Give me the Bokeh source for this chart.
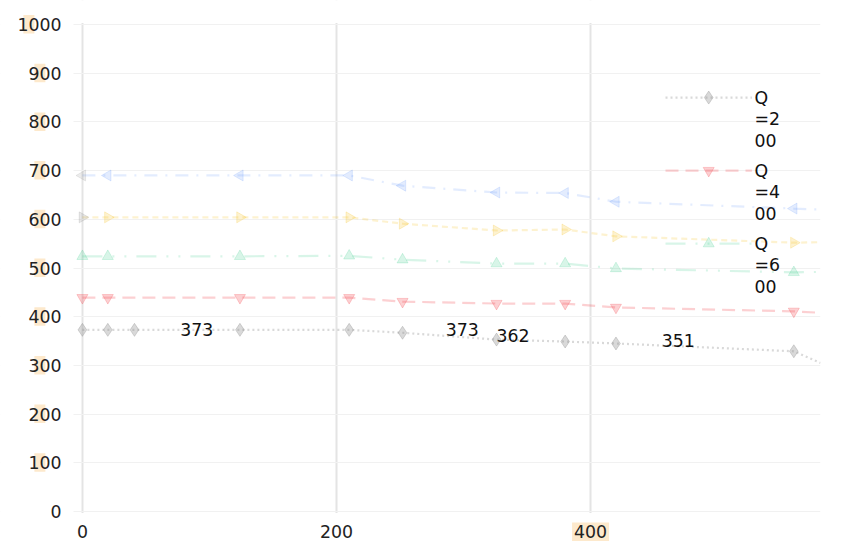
import math
from bokeh.plotting import figure
from bokeh.models import Range1d, FixedTicker, Label, ColumnDataSource, BoxAnnotation
from bokeh.embed import file_html
from bokeh.resources import INLINE
from bokeh.core.properties import value

# ---- data ----
x_main = [0, 20, 124, 210, 252, 326, 380, 420, 560, 581]
x_gray = [0, 20, 41, 124, 210, 252, 326, 380, 420, 560, 581]
q200 = [373, 373, 373, 373, 373, 367, 353, 349, 345, 329, 305]
q400 = [439, 439, 439, 439, 431, 427, 427, 419, 411, 408]
q600 = [524, 524, 524, 525, 517, 509, 509, 499, 491, 492]
q800 = [604, 604, 604, 604, 591, 577, 579, 565, 552, 553]
q1000 = [690, 690, 690, 690, 669, 655, 654, 636, 622, 620]

label_x = [90, 299, 339, 469]
label_y = [373, 373, 362, 351]
label_txt = ["373", "373", "362", "351"]

x_ticks = [0, 200, 400]
y_ticks = [0, 100, 200, 300, 400, 500, 600, 700, 800, 900, 1000]
legend_labels = ["Q\n=2\n00", "Q\n=4\n00", "Q\n=6\n00"]
legend_y = [850, 700, 550]

FONT = "DejaVu Sans"
FS = "13pt"

# ---- geometry: plot area x=-7..581, y=0..1000 (747 x 487 px);
# the frame is extended so the tick-label area lies inside it
X_LO, X_HI, Y_LO, Y_HI = -7, 581, 0, 1000
SX = 747 / (X_HI - X_LO)
SY = 487 / (Y_HI - Y_LO)
LEFT_PX, BOTTOM_PX, TOP_PX = 73, 30, 24
x_start = X_LO - LEFT_PX / SX
y_start = Y_LO - BOTTOM_PX / SY
y_end = Y_HI + TOP_PX / SY

p = figure(frame_width=747 + LEFT_PX, frame_height=487 + BOTTOM_PX + TOP_PX,
           output_backend="svg", toolbar_location=None,
           x_range=Range1d(x_start, X_HI), y_range=Range1d(y_start, y_end),
           min_border_left=0, min_border_top=0, min_border_right=16, min_border_bottom=0)
p.outline_line_color = None
p.background_fill_color = "white"
p.border_fill_color = "white"

# axes, pinned to the plot-area edges
for ax in (p.xaxis[0], p.yaxis[0]):
    ax.axis_line_color = None
    ax.major_tick_line_color = None
    ax.minor_tick_line_color = None
    ax.major_label_text_font = FONT
    ax.major_label_text_font_size = FS
    ax.major_label_text_color = "#222222"
p.xaxis.ticker = FixedTicker(ticks=x_ticks)
p.yaxis.ticker = FixedTicker(ticks=y_ticks)
p.xaxis.fixed_location = Y_LO
p.yaxis.fixed_location = X_LO
p.xaxis.major_label_standoff = 7
p.yaxis.major_label_standoff = 6

p.xgrid.ticker = FixedTicker(ticks=x_ticks)
p.ygrid.ticker = FixedTicker(ticks=y_ticks)
p.xgrid.grid_line_color = "#e4e4e4"
p.xgrid.grid_line_width = 2
p.ygrid.grid_line_color = "#f1f1f1"
p.ygrid.grid_line_width = 1

# white strips so the grid stays inside the plot area
WHITE = dict(fill_color="white", fill_alpha=1, line_color=None, level="underlay")
p.add_layout(BoxAnnotation(left=x_start, right=X_LO, bottom=y_start, top=y_end, **WHITE))
p.add_layout(BoxAnnotation(left=X_LO, right=X_HI, bottom=y_start, top=Y_LO - 1.5 / SY, **WHITE))
p.add_layout(BoxAnnotation(left=X_LO, right=X_HI, bottom=Y_HI + 1.5 / SY, top=y_end, **WHITE))

# highlight boxes behind tick labels (first digit of y labels, whole "400")
HL = "#fde9cc"
for t in y_ticks[1:]:
    lpx = 23 if t >= 1000 else 34
    l = (lpx - 82) / SX
    r = (lpx + 11 - 82) / SX
    p.add_layout(BoxAnnotation(left=l, right=r, bottom=t - 9 / SY, top=t + 9.5 / SY,
                               fill_color=HL, fill_alpha=1, line_color=None, level="underlay"))
p.add_layout(BoxAnnotation(left=400 - 18.5 / SX, right=400 + 18.5 / SX,
                           bottom=-30 / SY, top=-11 / SY,
                           fill_color=HL, fill_alpha=1, line_color=None, level="underlay"))

series = [
    ("gray", x_gray, q200, "#8c8c8c", "2 3", "diamond", 0.0, 0.33, 13),
    ("red", x_main, q400, "#f5505a", "13 7", "inverted_triangle", 0.0, 0.27, 11),
    ("green", x_main, q600, "#3ccf8e", "20 10 2 10 2 10", "triangle", 0.0, 0.2, 11),
    ("yellow", x_main, q800, "#f6bd16", "6 4", "triangle", -math.pi / 2, 0.2, 11),
    ("blue", x_main, q1000, "#5b8ff9", "13 8 2 8", "triangle", math.pi / 2, 0.17, 11),
]

styles = {}
for name, xs, ys, col, dash, marker, ang, alpha, size in series:
    p.line(xs, ys, line_color=col, line_dash=dash, line_width=2.2, line_alpha=alpha)
    mx = xs[:-1]
    my = ys[:-1]
    colors = [col] * len(mx)
    if name in ("blue", "yellow"):
        colors[0] = "#8c8c8c"
    src = ColumnDataSource(dict(x=mx, y=my, c=colors))
    p.scatter("x", "y", source=src, marker=marker, size=size, angle=ang,
              fill_color="c", line_color="c", fill_alpha=alpha, line_alpha=alpha)
    styles[name] = (col, dash, marker, ang, alpha, size)

p.text(label_x, label_y, text=label_txt, text_font=value(FONT), text_font_size=FS,
       text_align="center", text_baseline="middle", text_color="#111111")

# legend (glyph aligned with the first line of each wrapped label)
LX0, LX1, LXM, LTX = 459, 527, 493, 529
for name, lab, ly in zip(["gray", "red", "green"], legend_labels, legend_y):
    col, dash, marker, ang, alpha, size = styles[name]
    p.line([LX0, LX1], [ly, ly], line_color=col, line_dash=dash, line_width=2.2, line_alpha=alpha)
    p.scatter([LXM], [ly], marker=marker, size=size, angle=ang, fill_color=col,
              line_color=col, fill_alpha=alpha, line_alpha=alpha)
    p.add_layout(Label(x=LTX, y=ly + 20, text=lab, text_font=FONT, text_font_size=FS,
                       text_align="left", text_baseline="top", text_line_height=1.07,
                       text_color="#111111"))

open("out.html", "w").write(file_html(p, INLINE))
